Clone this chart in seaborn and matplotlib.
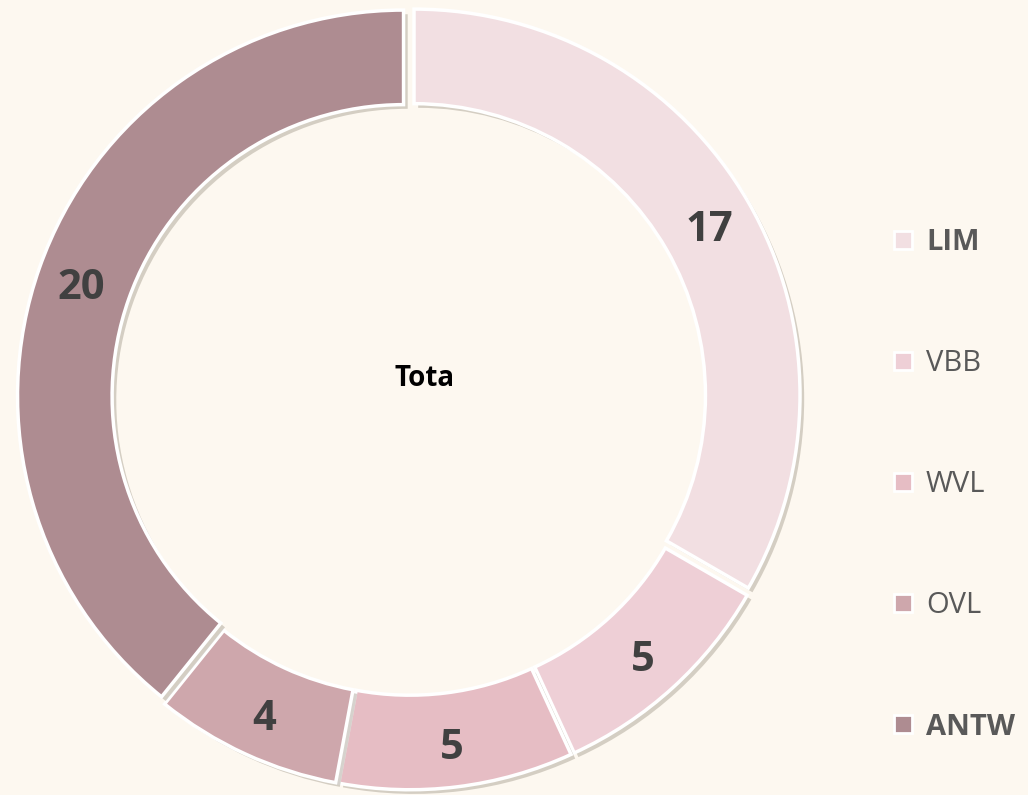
import numpy as np
import matplotlib.pyplot as plt
import matplotlib.patheffects as pe
from matplotlib.lines import Line2D
import seaborn as sns

# Данные
labels = ['LIM', 'VBB', 'WVL', 'OVL', 'ANTW']
values = [17, 5, 5, 4, 20]
colors = ['#f2dfe2', '#eecfd6', '#e6bdc4', '#cea7ac', '#ae8c91']
bold_labels = ['LIM', 'ANTW']
center_text = 'Tota'

sns.set_style('white')
plt.rcParams['font.family'] = ['Open Sans', 'DejaVu Sans']

bg = '#fdf8f0'
fig = plt.figure(figsize=(10.28, 7.95), dpi=100, facecolor=bg)
half = 386 * 1.03
ax = fig.add_axes([(409 - half) / 1028, (397 - half) / 795, 2 * half / 1028, 2 * half / 795])
ax.set_facecolor(bg)

shadow = [pe.SimplePatchShadow(offset=(3, -3), shadow_rgbFace='#8a8070', alpha=0.35), pe.Normal()]
wedges, texts = ax.pie(
    values, colors=colors, startangle=90, counterclock=False,
    explode=[0.015] * len(values), radius=1.0,
    wedgeprops=dict(width=0.245, edgecolor='white', linewidth=2.5, path_effects=shadow),
)

# Подписи значений в середине кольца
total = sum(values)
start = 90.0
for v in values:
    mid = np.deg2rad(start - v / total * 180)
    ax.text(0.9 * np.cos(mid), 0.9 * np.sin(mid) - 0.016, str(v), ha='center', va='center',
            fontsize=30, fontweight='bold', color='#404040')
    start -= v / total * 360

ax.text(0.04, 0.05, center_text, ha='center', va='center', fontsize=20, fontweight='bold', color='black')
ax.set_xlim(-1.03, 1.03)
ax.set_ylim(-1.03, 1.03)
ax.set_aspect('equal')
ax.axis('off')

# Легенда
handles = [Line2D([], [], marker='s', linestyle='none', markersize=13, markerfacecolor=c,
                  markeredgecolor='white', markeredgewidth=2) for c in colors]
leg = fig.legend(handles, labels, loc='upper left', bbox_to_anchor=(0.844, 0.739), frameon=False,
                 fontsize=21, labelspacing=3.16, handletextpad=0.3, handlelength=1.0, borderpad=0.2)
for t in leg.get_texts():
    t.set_color('#595959')
    if t.get_text() in bold_labels:
        t.set_fontweight('bold')

fig.savefig('out.png', dpi=100, facecolor=bg)
